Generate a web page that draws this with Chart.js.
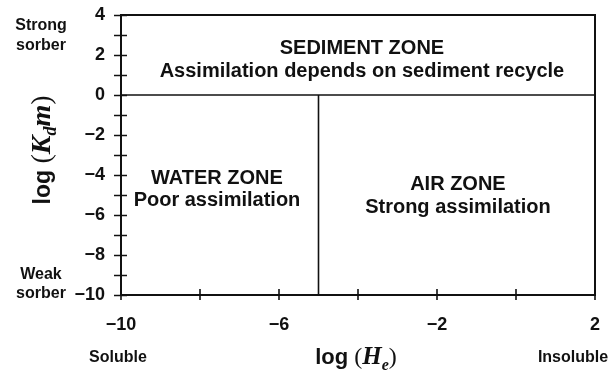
<!DOCTYPE html>
<html>
<head>
<meta charset="utf-8">
<script src="https://cdn.jsdelivr.net/npm/chart.js@4.4.1/dist/chart.umd.min.js"></script>
<style>
  html, body { margin: 0; padding: 0; background: #fff; }
  canvas { display: block; }
</style>
</head>
<body>
<canvas id="zoneChart" width="613" height="375"></canvas>
<script>
// axis ranges and labelled ticks
const xRange = [-10, 2];
const yRange = [-10, 4];
const xLabelTicks = [-10, -6, -2, 2];
const yLabelTicks = [-10, -8, -6, -4, -2, 0, 2, 4];
// small tick marks on the axes
const xMarkTicks = [-10, -8, -6, -4, -2, 0, 2];
const yMarkTicks = [-10, -9, -8, -7, -6, -5, -4, -3, -2, -1, 0, 1, 2, 3, 4];

// zone boundaries
const sedimentLineX = [-10, 2];
const sedimentLineY = [0, 0];
const waterAirLineX = [-5, -5];
const waterAirLineY = [0, -10];

// zone captions
const sedimentText = ['SEDIMENT ZONE', 'Assimilation depends on sediment recycle'];
const waterText = ['WATER ZONE', 'Poor assimilation'];
const airText = ['AIR ZONE', 'Strong assimilation'];

const SANS = '"Liberation Sans", Arial, Helvetica, sans-serif';
const SERIF = '"Liberation Serif", "Times New Roman", serif';
const INK = '#111';

function toPoints(xs, ys) {
    return xs.map((x, i) => ({ x: x, y: ys[i] }));
}

function minus(v) {
    return v < 0 ? '\u2212' + Math.abs(v) : String(v);
}

// draws a run of text pieces with mixed fonts, centred on (0,0)
function drawRun(ctx, parts) {
    let total = 0;
    parts.forEach(p => { ctx.font = p.font; p.w = ctx.measureText(p.t).width; total += p.w; });
    let x = -total / 2;
    ctx.textAlign = 'left';
    ctx.textBaseline = 'alphabetic';
    parts.forEach(p => {
        ctx.font = p.font;
        ctx.fillText(p.t, x, p.dy || 0);
        x += p.w;
    });
}

function drawLines(ctx, lines, cx, y, gap) {
    ctx.textAlign = 'center';
    ctx.textBaseline = 'alphabetic';
    lines.forEach((l, i) => ctx.fillText(l, cx, y + i * gap));
}

const framePlugin = {
    id: 'frame',
    beforeDraw(chart) {
        const c = chart.ctx;
        c.save();
        c.fillStyle = '#fff';
        c.fillRect(0, 0, chart.width, chart.height);
        c.restore();
    },
    afterDraw(chart) {
        const c = chart.ctx;
        const a = chart.chartArea;
        const xs = chart.scales.x;
        const ys = chart.scales.y;
        c.save();
        c.strokeStyle = INK;
        c.lineWidth = 2;
        c.strokeRect(a.left, a.top, a.right - a.left, a.bottom - a.top);

        // tick marks crossing the axes
        c.lineWidth = 1.6;
        c.beginPath();
        yMarkTicks.forEach(v => {
            const py = Math.round(ys.getPixelForValue(v)) + 0.5;
            c.moveTo(a.left - 7, py);
            c.lineTo(a.left + 6, py);
        });
        xMarkTicks.forEach(v => {
            const px = Math.round(xs.getPixelForValue(v));
            c.moveTo(px, a.bottom - 6);
            c.lineTo(px, a.bottom + 5);
        });
        c.stroke();

        c.fillStyle = INK;

        // zone captions
        c.font = 'bold 20px ' + SANS;
        drawLines(c, sedimentText, xs.getPixelForValue(-3.9), ys.getPixelForValue(2.05), 23);
        drawLines(c, waterText, xs.getPixelForValue(-7.57), ys.getPixelForValue(-4.45), 22);
        drawLines(c, airText, xs.getPixelForValue(-1.47), ys.getPixelForValue(-4.75), 23);

        // end notes beside the axes
        c.font = 'bold 16px ' + SANS;
        drawLines(c, ['Strong', 'sorber'], 41, 30, 20);
        drawLines(c, ['Weak', 'sorber'], 41, 279, 19);
        drawLines(c, ['Soluble'], 118, 362, 0);
        drawLines(c, ['Insoluble'], 573, 362, 0);

        // x axis title
        c.save();
        c.translate(356, 364);
        drawRun(c, [
            { t: 'log ', font: 'bold 22px ' + SANS },
            { t: '(', font: '24px ' + SERIF },
            { t: 'H', font: 'bold italic 25px ' + SERIF },
            { t: 'e', font: 'bold italic 16px ' + SERIF, dy: 6 },
            { t: ')', font: '24px ' + SERIF }
        ]);
        c.restore();

        // y axis title
        c.save();
        c.translate(50, 150);
        c.rotate(-Math.PI / 2);
        drawRun(c, [
            { t: 'log ', font: 'bold 23px ' + SANS },
            { t: '(', font: '28px ' + SERIF },
            { t: 'K', font: 'bold italic 28px ' + SERIF },
            { t: 'd', font: 'bold italic 18px ' + SERIF, dy: 6 },
            { t: 'm', font: 'bold italic 28px ' + SERIF },
            { t: ')', font: '28px ' + SERIF }
        ]);
        c.restore();

        c.restore();
    }
};

new Chart(
    document.getElementById('zoneChart'),
    {
        type: 'scatter',
        data: {
            datasets: [
                {
                    data: toPoints(sedimentLineX, sedimentLineY),
                    showLine: true,
                    borderColor: INK,
                    borderWidth: 1.6,
                    pointRadius: 0
                },
                {
                    data: toPoints(waterAirLineX, waterAirLineY),
                    showLine: true,
                    borderColor: INK,
                    borderWidth: 1.6,
                    pointRadius: 0
                }
            ]
        },
        options: {
            responsive: false,
            animation: false,
            layout: {
                padding: { left: 0, right: 18, top: 15, bottom: 0 }
            },
            scales: {
                x: {
                    type: 'linear',
                    min: xRange[0],
                    max: xRange[1],
                    afterBuildTicks: s => { s.ticks = xLabelTicks.map(v => ({ value: v })); },
                    afterFit: s => { s.height = 80; s.paddingLeft = 0; s.paddingRight = 0; },
                    grid: { display: false, drawTicks: false },
                    border: { display: false },
                    ticks: {
                        padding: 19,
                        color: INK,
                        font: { family: SANS, size: 18, weight: 'bold' },
                        callback: v => minus(v)
                    }
                },
                y: {
                    type: 'linear',
                    min: yRange[0],
                    max: yRange[1],
                    afterBuildTicks: s => { s.ticks = yLabelTicks.map(v => ({ value: v })); },
                    afterFit: s => { s.width = 121; s.paddingTop = 0; s.paddingBottom = 0; },
                    grid: { display: false, drawTicks: false },
                    border: { display: false },
                    ticks: {
                        padding: 16,
                        color: INK,
                        font: { family: SANS, size: 18, weight: 'bold' },
                        callback: v => minus(v)
                    }
                }
            },
            plugins: {
                legend: { display: false },
                tooltip: { enabled: false }
            }
        },
        plugins: [framePlugin]
    }
);
</script>
</body>
</html>
